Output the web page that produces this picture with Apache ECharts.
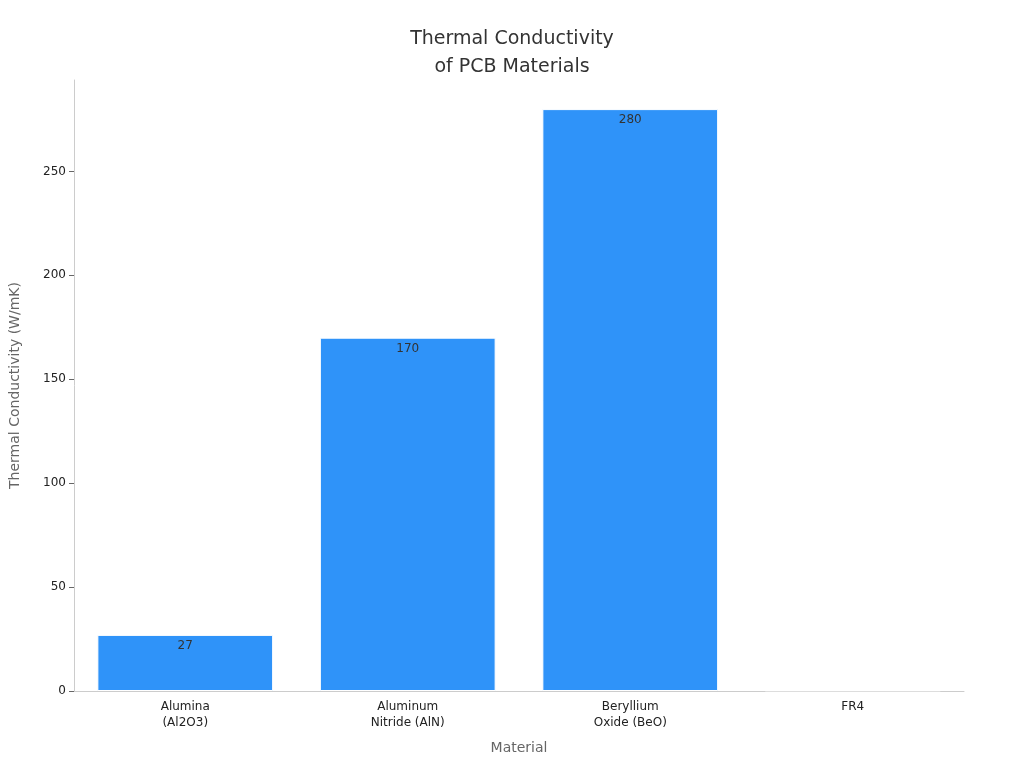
<!DOCTYPE html>
<html>
<head>
<meta charset="utf-8">
<script src="https://cdn.jsdelivr.net/npm/echarts@6/dist/echarts.min.js"></script>
<style>html,body{margin:0;padding:0;background:#fff}#chart{width:1024px;height:768px}</style>
</head>
<body>
<div id="chart"></div>
<script>
var categories = ['Alumina\n(Al2O3)', 'Aluminum\nNitride (AlN)', 'Beryllium\nOxide (BeO)', 'FR4'];
var values = [27, 170, 280, 0.3];
var barColors = ['#2f93f9', '#2f93f9', '#2f93f9', '#b9d3e4'];

var chart = echarts.init(document.getElementById('chart'));
chart.setOption({
  textStyle: { fontFamily: 'DejaVu Sans' },
  title: {
    text: 'Thermal Conductivity\nof PCB Materials',
    left: 'center', top: 20,
    textStyle: { fontSize: 19, fontWeight: 'normal', color: '#333', lineHeight: 28 }
  },
  grid: { left: 68, right: 60, top: 80, bottom: 77 },
  xAxis: {
    type: 'category',
    data: categories,
    name: 'Material', nameLocation: 'middle', nameGap: 50,
    nameTextStyle: { fontSize: 14, color: '#666' },
    axisLine: { lineStyle: { color: '#ccc' } },
    axisTick: { alignWithLabel: true, lineStyle: { color: '#666' } },
    axisLabel: { color: '#222', fontSize: 12, lineHeight: 16 }
  },
  yAxis: {
    type: 'value', min: 0, max: 294, interval: 50,
    name: 'Thermal Conductivity (W/mK)', nameLocation: 'middle', nameGap: 52,
    nameTextStyle: { fontSize: 14, color: '#666' },
    axisLine: { show: true, lineStyle: { color: '#ccc' } },
    axisTick: { show: true, lineStyle: { color: '#666' } },
    splitLine: { show: false },
    axisLabel: { color: '#222', fontSize: 12, showMaxLabel: false }
  },
  series: [{
    type: 'bar',
    barWidth: '79%',
    data: values.map(function (v, i) {
      return { value: v, itemStyle: { color: barColors[i], borderColor: '#fff', borderWidth: 1 } };
    }),
    label: {
      show: true, position: 'insideTop', color: '#333', fontSize: 12,
      formatter: function (p) { return p.dataIndex === 3 ? '' : p.value; }
    }
  }]
});
</script>
</body>
</html>
